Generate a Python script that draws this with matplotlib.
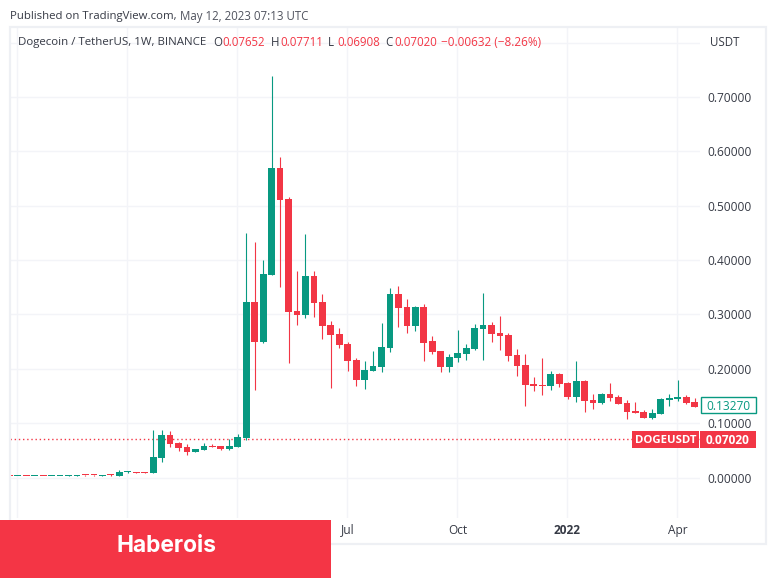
import matplotlib
matplotlib.use("Agg")
import matplotlib.pyplot as plt
from matplotlib.patches import Rectangle

# weekly candles
opens = [0.0024, 0.0022, 0.0024, 0.0022, 0.0024, 0.0022, 0.0022, 0.0025, 0.0036, 0.0042,
         0.0042, 0.0036, 0.0042, 0.0028, 0.0096, 0.0100, 0.0098, 0.0090, 0.0364, 0.0780,
         0.0640, 0.0560, 0.0475, 0.0511, 0.0580, 0.0574, 0.0524, 0.0567, 0.0732, 0.3229,
         0.2499, 0.3730, 0.5693, 0.5123, 0.3063, 0.2990, 0.3707, 0.3229, 0.2805, 0.2640,
         0.2456, 0.2162, 0.1794, 0.1959, 0.2033, 0.2382, 0.3384, 0.3136, 0.2793, 0.3136,
         0.2511, 0.2327, 0.2038, 0.2198, 0.2272, 0.2364, 0.2732, 0.2805, 0.2658, 0.2621,
         0.2253, 0.2070, 0.1720, 0.1707, 0.1683, 0.1904, 0.1738, 0.1481, 0.1775, 0.1426,
         0.1370, 0.1536, 0.1481, 0.1370, 0.1223, 0.1205, 0.1095, 0.1168, 0.1431, 0.1444,
         0.1481, 0.1389]
highs = [0.0026, 0.0026, 0.0026, 0.0026, 0.0026, 0.0026, 0.0026, 0.0040, 0.0042, 0.0044,
         0.0044, 0.0044, 0.0064, 0.0138, 0.0125, 0.0110, 0.0104, 0.0874, 0.0874, 0.0855,
         0.0650, 0.0616, 0.0525, 0.0640, 0.0616, 0.0580, 0.0703, 0.0800, 0.4490, 0.4338,
         0.4000, 0.7386, 0.5896, 0.5160, 0.3804, 0.4480, 0.3804, 0.3370, 0.2885, 0.2744,
         0.2498, 0.2193, 0.2143, 0.2327, 0.2848, 0.3480, 0.3523, 0.3284, 0.3155, 0.3192,
         0.2603, 0.2327, 0.2266, 0.2713, 0.2456, 0.2824, 0.3394, 0.2860, 0.2971, 0.2653,
         0.2364, 0.2272, 0.1849, 0.2198, 0.1959, 0.1922, 0.1760, 0.2143, 0.1794, 0.1536,
         0.1554, 0.1738, 0.1518, 0.1426, 0.1389, 0.1242, 0.1260, 0.1462, 0.1536, 0.1794,
         0.1518, 0.1462]
lows = [0.0020, 0.0020, 0.0020, 0.0020, 0.0020, 0.0020, 0.0020, 0.0023, 0.0034, 0.0036,
        0.0036, 0.0034, 0.0036, 0.0024, 0.0090, 0.0080, 0.0085, 0.0085, 0.0285, 0.0567,
        0.0493, 0.0414, 0.0470, 0.0505, 0.0555, 0.0505, 0.0515, 0.0560, 0.0695, 0.1610,
        0.2480, 0.3730, 0.3510, 0.2112, 0.2805, 0.2940, 0.2958, 0.2553, 0.1641, 0.2388,
        0.1965, 0.1689, 0.1622, 0.1950, 0.1946, 0.2314, 0.2774, 0.2653, 0.2700, 0.2149,
        0.2272, 0.1946, 0.1946, 0.2130, 0.2162, 0.2345, 0.2162, 0.2493, 0.2345, 0.2143,
        0.1867, 0.1315, 0.1591, 0.1518, 0.1610, 0.1659, 0.1444, 0.1383, 0.1205, 0.1260,
        0.1352, 0.1407, 0.1352, 0.1076, 0.1185, 0.1090, 0.1085, 0.1160, 0.1315, 0.1407,
        0.1350, 0.1290]
closes = [0.0022, 0.0024, 0.0022, 0.0024, 0.0022, 0.0024, 0.0024, 0.0038, 0.0040, 0.0038,
          0.0038, 0.0040, 0.0038, 0.0106, 0.0106, 0.0090, 0.0090, 0.0370, 0.0782, 0.0622,
          0.0548, 0.0475, 0.0520, 0.0580, 0.0560, 0.0524, 0.0574, 0.0745, 0.3229, 0.2499,
          0.3744, 0.5693, 0.5110, 0.3050, 0.2990, 0.3707, 0.3216, 0.2793, 0.2621, 0.2437,
          0.2149, 0.1794, 0.1978, 0.2051, 0.2400, 0.3384, 0.3124, 0.2793, 0.3136, 0.2480,
          0.2314, 0.2038, 0.2217, 0.2290, 0.2382, 0.2750, 0.2805, 0.2640, 0.2603, 0.2235,
          0.2051, 0.1702, 0.1683, 0.1689, 0.1904, 0.1720, 0.1481, 0.1775, 0.1407, 0.1370,
          0.1536, 0.1462, 0.1358, 0.1205, 0.1192, 0.1100, 0.1186, 0.1444, 0.1456, 0.1481,
          0.1370, 0.1297]

price_ticks = [0.0, 0.1, 0.2, 0.3, 0.4, 0.5, 0.6, 0.7, 0.8]
price_labels = ["0.00000", "0.10000", "0.20000", "0.30000", "0.40000", "0.50000", "0.60000", "0.70000", ""]
week_ticks = [0.96, 13.96, 26.96, 39.96, 52.96, 65.96, 78.96]
week_labels = ["", "", "", "Jul", "Oct", "2022", "Apr"]
last_close = 0.0702
last_bar_close = 0.1327

GREEN = "#089981"
RED = "#f23645"
GRID = "#f3f4f8"
FRAME = "#eef0f4"
TEXT = "#363a45"
FONT = "Open Sans"
W, H = 776, 579

plt.rcParams["font.family"] = [FONT, "DejaVu Sans"]
fig = plt.figure(figsize=(W / 100, H / 100), dpi=100)

def px(x0, y0, x1, y1):
    # pixel box (top-left origin) to figure fractions
    return [x0 / W, 1 - y1 / H, (x1 - x0) / W, (y1 - y0) / H]

ax = fig.add_axes(px(10, 27, 700, 518))
for s in ax.spines.values():
    s.set_visible(False)

xs = list(range(len(opens)))
colors = [GREEN if c >= o else RED for o, c in zip(opens, closes)]
ax.vlines(xs, lows, highs, colors=colors, linewidth=0.8, zorder=3)
# bodies keep at least one pixel, like the original doji dashes
heights = [max(abs(c - o), 0.0019) for o, c in zip(opens, closes)]
bottoms = [min(o, c) for o, c in zip(opens, closes)]
ax.bar(xs, heights, bottom=bottoms, width=0.8, color=colors, linewidth=0, zorder=4)

ax.axhline(last_close, color=RED, linewidth=1, linestyle=(0, (1, 2)), zorder=2)

ax.set_xlim(0.08, 81.64)
ax.set_ylim(-0.0745, 0.8287)
ax.yaxis.tick_right()
ax.set_yticks(price_ticks, price_labels)
ax.set_xticks(week_ticks, week_labels)
ax.tick_params(axis="y", length=0, pad=5.5, labelsize=8.6, labelcolor=TEXT)
ax.tick_params(axis="x", length=0, pad=4, labelsize=8.6, labelcolor=TEXT)
for lab in ax.get_xticklabels():
    if lab.get_text() == "2022":
        lab.set_fontweight("bold")
ax.grid(True, color=GRID, linewidth=1, zorder=0)
ax.set_axisbelow(True)

# outer pane frame
fig.add_artist(Rectangle((10 / W, 1 - 543.5 / H), 755.5 / W, 516.5 / H, transform=fig.transFigure,
                         fill=False, edgecolor=FRAME, linewidth=1.6))

def price_y(price):
    return H - ax.transData.transform((0, price))[1]

def box(x0, x1, price, height, face, edge, label, color, size=8.6, weight="normal", zorder=6):
    yc = price_y(price)
    fig.add_artist(Rectangle((x0 / W, 1 - (yc + height / 2) / H), (x1 - x0) / W, height / H,
                             transform=fig.transFigure, facecolor=face, edgecolor=edge,
                             linewidth=1, zorder=zorder))
    fig.text((x0 + x1) / 2 / W, 1 - yc / H, label, color=color, fontsize=size, fontweight=weight,
             ha="center", va="center_baseline", zorder=zorder + 1)

box(700.5, 755.5, last_bar_close, 16, "white", GREEN, "0.13270", GREEN)
box(632, 699, last_close, 17, RED, "none", "DOGEUSDT", "white", size=8.2, weight="bold")
box(700, 756, last_close, 17, RED, "none", "0.07020", "white", weight="bold")

# header lines
def top_text(x, y, s, color=TEXT, size=8.6, **kw):
    fig.text(x / W, 1 - y / H, s, color=color, fontsize=size, va="center_baseline", **kw)

top_text(10, 15, "Published on TradingView.com,", size=8.2)
top_text(180, 15, "May 12, 2023 07:13 UTC", color="#50535e", size=8.3)
top_text(18, 41, "Dogecoin / TetherUS, 1W, BINANCE", size=8.25)
for x, head, val in [(213, "O", "0.07652"), (271, "H", "0.07711"), (328, "L", "0.06908"), (385, "C", "0.07020")]:
    top_text(x, 41, head, size=8.3)
    top_text(x + 9, 41, val, color=RED, size=8.3)
top_text(441, 41, "\u22120.00632 (\u22128.26%)", color=RED, size=8.5)
top_text(710, 41, "USDT", size=8.3)

# watermark banner
fig.add_artist(Rectangle((0, 1 - 578 / H), 331 / W, 58 / H, transform=fig.transFigure,
                         facecolor="#f43545", edgecolor="none", zorder=8))
fig.text(166 / W, 1 - 546 / H, "Haberois", color="white", fontsize=16.4, fontweight="bold",
         family=["Inter", "DejaVu Sans"], ha="center", va="center", zorder=9)

fig.savefig("out.png", dpi=100)
